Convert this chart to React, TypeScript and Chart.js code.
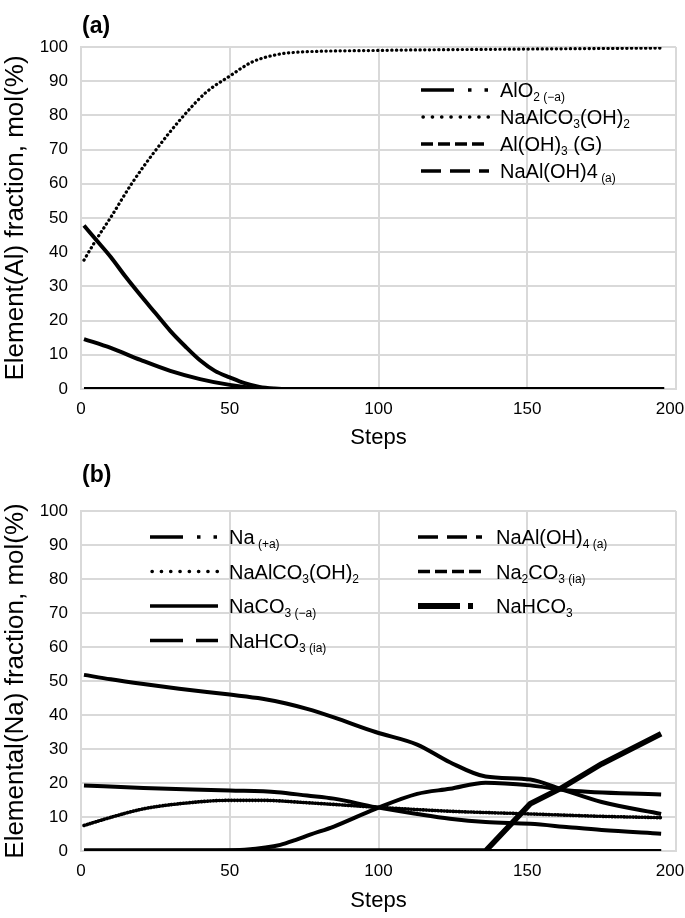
import React, { useEffect, useRef } from "react";
import { Chart, registerables } from "chart.js";

Chart.register(...registerables);

const FONT = '"Liberation Sans", Arial, sans-serif';

// ---------------- Panel (a) data ----------------
const xTicks = [0, 50, 100, 150, 200];
const aYTitle = "Element(Al) fraction, mol(%)";
const aLabels = ["AlO_{2 (−a)}", "NaAlCO_{3}(OH)_{2}", "Al(OH)_{3} (G)", "NaAl(OH)4_{ (a)}"];

const aStepsAlO2 = [1, 5, 10, 15, 20, 25, 30, 35, 40, 45, 50, 55, 60, 65, 70, 196];
const aAlO2 = [47.8, 43.7, 38.6, 32.8, 27.4, 22.2, 17.0, 12.5, 8.4, 5.3, 3.4, 1.7, 0.6, 0.15, 0, 0];

const aStepsNaAlCO3 = [1, 5, 10, 17, 25, 34, 42, 50, 57, 62, 66, 70, 100, 150, 196];
const aNaAlCO3 = [37.7, 43.5, 50.2, 60, 69.7, 79.4, 86.7, 91.5, 95.4, 97.0, 97.8, 98.3, 99.0, 99.4, 99.7];

const aStepsAlOH3 = [1, 196];
const aAlOH3 = [0, 0];

const aStepsNaAlOH4 = [1, 10, 20, 30, 40, 50, 60, 65, 196];
const aNaAlOH4 = [14.6, 12.0, 8.5, 5.3, 2.9, 1.2, 0.2, 0, 0];

// ---------------- Panel (b) data ----------------
const bYTitle = "Elemental(Na) fraction, mol(%)";
const bLabels = [
  "Na_{ (+a)}",
  "NaAlCO_{3}(OH)_{2}",
  "NaCO_{3 (−a)}",
  "NaHCO_{3 (ia)}",
  "NaAl(OH)_{4 (a)}",
  "Na_{2}CO_{3 (ia)}",
  "NaHCO_{3}",
];

const bStepsNa = [1, 10, 21, 33, 50, 61, 69, 76, 85, 99, 113, 124, 136, 151, 161, 175, 195];
const bNa = [51.8, 50.5, 49.1, 47.7, 46.0, 44.8, 43.4, 41.8, 39.3, 35.0, 31.3, 26.1, 21.9, 21.0, 18.3, 14.4, 10.9];

const bStepsNaAlCO3 = [1, 10, 21, 33, 50, 61, 76, 99, 124, 151, 175, 195];
const bNaAlCO3 = [7.5, 9.9, 12.4, 13.9, 14.9, 14.9, 14.2, 12.9, 11.7, 10.9, 10.2, 9.8];

const bStepsNaCO3 = [1, 21, 50, 66, 76, 85, 99, 113, 124, 136, 151, 164, 175, 195];
const bNaCO3 = [19.3, 18.5, 17.8, 17.3, 16.3, 15.4, 12.9, 10.9, 9.5, 8.5, 8.0, 7.0, 6.2, 5.1];

const bStepsNaHCO3ia = [1, 45, 55, 62, 67, 72, 77, 85, 99, 113, 124, 136, 151, 164, 195];
const bNaHCO3ia = [0, 0.1, 0.4, 1.0, 1.8, 3.2, 4.8, 7.2, 12.4, 16.8, 18.3, 20.1, 19.3, 17.8, 16.6];

const bStepsNaAlOH4 = [1, 195];
const bNaAlOH4 = [0, 0];

const bStepsNa2CO3 = [1, 195];
const bNa2CO3 = [0, 0];

const bStepsNaHCO3 = [1, 136, 151, 161, 175, 195];
const bNaHCO3 = [0, 0, 13.9, 18.3, 25.6, 34.5];

// ---------------- styles ----------------
type LegendStyle = { dash: number[]; width: number; cap: CanvasLineCap };
const DASH_DOT_DOT: LegendStyle = { dash: [33, 14, 3.5, 13, 3.5, 80], width: 3.5, cap: "butt" };
const DOTS: LegendStyle = { dash: [0.3, 9], width: 3.4, cap: "round" };
const SHORT_DASH: LegendStyle = { dash: [12, 5], width: 3.5, cap: "butt" };
const MED_DASH: LegendStyle = { dash: [20, 9], width: 3.5, cap: "butt" };
const LONG_DASH: LegendStyle = { dash: [33, 13], width: 3.5, cap: "butt" };
const SOLID: LegendStyle = { dash: [], width: 3.5, cap: "butt" };
const THICK_DASH_DOT: LegendStyle = { dash: [42, 8, 5, 80], width: 6, cap: "butt" };

const aLegendStyles = [DASH_DOT_DOT, DOTS, SHORT_DASH, MED_DASH];
const bLegendStyles = [DASH_DOT_DOT, DOTS, SOLID, LONG_DASH, MED_DASH, SHORT_DASH, THICK_DASH_DOT];

function pts(xs: number[], ys: number[]) {
  return xs.map((x, i) => ({ x, y: ys[i] }));
}

function drawRich(ctx: CanvasRenderingContext2D, label: string, x: number, baseline: number, size: number) {
  const re = /_\{([^}]*)\}/g;
  const parts: { t: string; s: boolean }[] = [];
  let last = 0;
  let m: RegExpExecArray | null;
  while ((m = re.exec(label))) {
    if (m.index > last) parts.push({ t: label.slice(last, m.index), s: false });
    parts.push({ t: m[1], s: true });
    last = re.lastIndex;
  }
  if (last < label.length) parts.push({ t: label.slice(last), s: false });
  let cx = x;
  for (const p of parts) {
    const fs = p.s ? Math.round(size * 0.62) : size;
    ctx.font = `${fs}px ${FONT}`;
    ctx.fillText(p.t, cx, baseline + (p.s ? size * 0.2 : 0));
    cx += ctx.measureText(p.t).width;
  }
}

type LegendLayout = { sampleDx: number; sampleLen: number; textDx: number; col: number; row: number };

function makeLegendPlugin(
  id: string,
  labels: string[],
  styles: LegendStyle[],
  layout: LegendLayout[],
  rowTop: number,
  rowGap: number,
  textSize: number,
  panelLetter: string,
  letterY: number
) {
  return {
    id,
    afterDraw(chart: Chart) {
      const ctx = chart.ctx;
      const area = chart.chartArea;
      ctx.save();
      labels.forEach((label, i) => {
        const L = layout[i];
        const st = styles[i];
        const cy = area.top + rowTop + L.row * rowGap;
        const sx = area.left + L.sampleDx;
        ctx.beginPath();
        ctx.setLineDash(st.dash);
        ctx.lineDashOffset = 0;
        ctx.lineCap = st.cap;
        ctx.lineWidth = st.width;
        ctx.strokeStyle = "#000";
        ctx.moveTo(sx + (st.cap === "round" ? 2 : 0), cy);
        ctx.lineTo(sx + L.sampleLen, cy);
        ctx.stroke();
        ctx.setLineDash([]);
        ctx.fillStyle = "#000";
        ctx.textBaseline = "alphabetic";
        ctx.textAlign = "left";
        drawRich(ctx, label, area.left + L.textDx, cy + textSize * 0.36, textSize);
      });
      ctx.font = `bold 23px ${FONT}`;
      ctx.textBaseline = "middle";
      ctx.textAlign = "left";
      ctx.fillStyle = "#000";
      ctx.fillText(panelLetter, area.left + 1, letterY);
      ctx.restore();
    },
  };
}

function scalesCfg(yTitle: string, xHeight: number) {
  const grid = { color: "#d9d9d9", lineWidth: 2, drawTicks: false };
  const border = { color: "#d9d9d9", width: 2 };
  const lastTick = xTicks[xTicks.length - 1];
  return {
    x: {
      type: "linear" as const,
      min: xTicks[0],
      max: lastTick,
      afterBuildTicks: (s: any) => {
        s.ticks = xTicks.map((v) => ({ value: v }));
      },
      ticks: {
        font: { family: FONT, size: 17 },
        color: "#000",
        padding: 10,
        maxRotation: 0,
        // keep the last label inside the canvas (shifted left like the original)
        callback: (v: number) => (v === lastTick ? `${v}\u2002\u2009` : `${v}`),
      },
      grid,
      border,
      title: {
        display: true,
        text: "Steps",
        font: { family: FONT, size: 22 },
        color: "#000",
        padding: { top: 0, bottom: 4 },
      },
      afterFit: (s: any) => {
        s.height = xHeight;
        s.paddingLeft = 0;
        s.paddingRight = 0;
      },
    },
    y: {
      min: 0,
      max: 100,
      ticks: { stepSize: 10, font: { family: FONT, size: 17 }, color: "#000", padding: 13 },
      grid,
      border,
      title: {
        display: true,
        text: yTitle,
        font: { family: FONT, size: 26 },
        color: "#000",
        padding: { top: 0, bottom: 0 },
      },
      afterFit: (s: any) => {
        s.width = 81;
        s.paddingTop = 0;
        s.paddingBottom = 0;
      },
    },
  };
}

const baseLine = { borderColor: "#000", pointRadius: 0, fill: false, borderJoinStyle: "round" as const };

export default function App() {
  const refA = useRef<HTMLCanvasElement>(null);
  const refB = useRef<HTMLCanvasElement>(null);

  useEffect(() => {
    const legendA = makeLegendPlugin(
      "legendA",
      aLabels,
      aLegendStyles,
      aLabels.map((_, i) => ({ sampleDx: 340, sampleLen: 68, textDx: 419, col: 0, row: i })),
      43,
      27,
      20,
      "(a)",
      27
    );
    const chartA = new Chart(refA.current!, {
      type: "line",
      data: {
        datasets: [
          { ...baseLine, label: aLabels[0], data: pts(aStepsAlO2, aAlO2), borderWidth: 4, cubicInterpolationMode: "monotone" },
          {
            ...baseLine,
            label: aLabels[1],
            data: pts(aStepsNaAlCO3, aNaAlCO3),
            borderWidth: 3.2,
            borderDash: [0.3, 4.4],
            borderCapStyle: "round",
            cubicInterpolationMode: "monotone",
          },
          { ...baseLine, label: aLabels[2], data: pts(aStepsAlOH3, aAlOH3), borderWidth: 4 },
          { ...baseLine, label: aLabels[3], data: pts(aStepsNaAlOH4, aNaAlOH4), borderWidth: 4, cubicInterpolationMode: "monotone" },
        ],
      },
      options: {
        responsive: false,
        animation: false,
        layout: { padding: { top: 47, right: 9, bottom: 0, left: 0 } },
        plugins: { legend: { display: false }, tooltip: { enabled: false } },
        scales: scalesCfg(aYTitle, 66) as any,
      },
      plugins: [legendA],
    } as any);

    const legendB = makeLegendPlugin(
      "legendB",
      bLabels,
      bLegendStyles,
      bLabels.map((_, i) =>
        i < 4
          ? { sampleDx: 69, sampleLen: 68, textDx: 148, col: 0, row: i }
          : { sampleDx: 337, sampleLen: 64, textDx: 415, col: 1, row: i - 4 }
      ),
      26,
      34.5,
      20,
      "(b)",
      21
    );
    const chartB = new Chart(refB.current!, {
      type: "line",
      data: {
        datasets: [
          { ...baseLine, label: bLabels[0], data: pts(bStepsNa, bNa), borderWidth: 4, cubicInterpolationMode: "monotone" },
          {
            ...baseLine,
            label: bLabels[1],
            data: pts(bStepsNaAlCO3, bNaAlCO3),
            borderWidth: 3.6,
            borderDash: [0.6, 2.4],
            borderCapStyle: "round",
            cubicInterpolationMode: "monotone",
          },
          { ...baseLine, label: bLabels[2], data: pts(bStepsNaCO3, bNaCO3), borderWidth: 4, cubicInterpolationMode: "monotone" },
          { ...baseLine, label: bLabels[3], data: pts(bStepsNaHCO3ia, bNaHCO3ia), borderWidth: 4, cubicInterpolationMode: "monotone" },
          { ...baseLine, label: bLabels[4], data: pts(bStepsNaAlOH4, bNaAlOH4), borderWidth: 4 },
          { ...baseLine, label: bLabels[5], data: pts(bStepsNa2CO3, bNa2CO3), borderWidth: 4 },
          { ...baseLine, label: bLabels[6], data: pts(bStepsNaHCO3, bNaHCO3), borderWidth: 5.5, tension: 0 },
        ],
      },
      options: {
        responsive: false,
        animation: false,
        layout: { padding: { top: 56, right: 9, bottom: 0, left: 0 } },
        plugins: { legend: { display: false }, tooltip: { enabled: false } },
        scales: scalesCfg(bYTitle, 67) as any,
      },
      plugins: [legendB],
    } as any);

    return () => {
      chartA.destroy();
      chartB.destroy();
    };
  }, []);

  return (
    <div style={{ position: "absolute", left: 0, top: 0, width: 685, height: 918, background: "#fff" }}>
      <canvas ref={refA} width={685} height={455} style={{ display: "block" }} />
      <canvas ref={refB} width={685} height={463} style={{ display: "block" }} />
    </div>
  );
}
